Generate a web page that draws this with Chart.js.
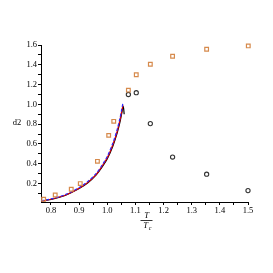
<!DOCTYPE html>
<html>
<head>
<meta charset="utf-8">
<script src="https://cdn.jsdelivr.net/npm/chart.js@4.4.0/dist/chart.umd.min.js"></script>
<style>
  html, body { margin: 0; padding: 0; background: #fff; }
  #wrap { width: 273px; height: 273px; position: relative; }
</style>
</head>
<body>
<div id="wrap"><canvas id="myChartD2"></canvas></div>
<script>
// valores
var xTicks = [0.8, 0.9, 1.0, 1.1, 1.2, 1.3, 1.4, 1.5];
var yTicks = [0.2, 0.4, 0.6, 0.8, 1.0, 1.2, 1.4, 1.6];

var squaresX = [0.774, 0.815, 0.872, 0.904, 0.965, 1.005, 1.023, 1.075, 1.103, 1.153, 1.232, 1.353, 1.501];
var squaresY = [0.042, 0.085, 0.143, 0.200, 0.425, 0.687, 0.829, 1.144, 1.300, 1.405, 1.486, 1.557, 1.591];

var circlesX = [1.075, 1.103, 1.153, 1.232, 1.353, 1.500];
var circlesY = [1.100, 1.118, 0.806, 0.468, 0.295, 0.129];

var curveX      = [0.765, 0.80, 0.85, 0.90, 0.93, 0.96, 0.98, 1.00, 1.02, 1.035, 1.045, 1.052, 1.056, 1.058, 1.060];
var curveBlack  = [0.022, 0.040, 0.080, 0.150, 0.205, 0.285, 0.360, 0.450, 0.580, 0.710, 0.820, 0.920, 0.980, 0.960, 0.900];
var curveRedX   = [0.765, 0.80, 0.85, 0.90, 0.93, 0.96, 0.98, 1.00, 1.02, 1.035, 1.045, 1.052, 1.056];
var curveRed    = [0.022, 0.042, 0.082, 0.153, 0.210, 0.290, 0.370, 0.460, 0.595, 0.725, 0.840, 0.940, 0.990];
var curveBlue   = [0.025, 0.045, 0.088, 0.160, 0.220, 0.300, 0.380, 0.475, 0.610, 0.745, 0.860, 0.960, 1.020];

function pts(xs, ys) {
    return ys.map(function (v, i) { return { x: xs[i], y: v }; });
}

function isMajor(v, list) {
    return list.some(function (t) { return Math.abs(t - v) < 1e-6; });
}

var FONT = 'Liberation Serif';

// titulos del eje: fraccion T/Tc y d2 horizontal
var axisTitles = {
    id: 'axisTitles',
    afterDraw: function (chart) {
        var ctx = chart.ctx;
        var area = chart.chartArea;
        var ys = chart.scales.y;
        ctx.save();
        ctx.fillStyle = '#000';
        ctx.strokeStyle = '#000';
        ctx.textAlign = 'center';
        ctx.textBaseline = 'middle';
        // d2
        ctx.font = '8.5px "' + FONT + '"';
        ctx.fillText('d2', 17, ys.getPixelForValue(0.8) - 1);
        // fraccion
        var cx = (area.left + area.right) / 2 + 2;
        var cy = area.bottom + 18;
        ctx.font = 'italic 8.5px "' + FONT + '"';
        ctx.fillText('T', cx, cy - 4);
        ctx.lineWidth = 0.8;
        ctx.beginPath();
        ctx.moveTo(cx - 6, cy + 0.5);
        ctx.lineTo(cx + 6, cy + 0.5);
        ctx.stroke();
        ctx.fillText('T', cx - 1, cy + 5.5);
        ctx.font = 'italic 6px "' + FONT + '"';
        ctx.fillText('c', cx + 3.5, cy + 8);
        ctx.restore();
    }
};

var ctx = document.getElementById('myChartD2').getContext('2d');
var myChart = new Chart(ctx, {
    type: 'scatter',
    data: {
        datasets: [{
            label: 'negro',
            data: pts(curveX, curveBlack),
            showLine: true,
            borderColor: '#000',
            borderWidth: 1.2,
            pointRadius: 0,
            tension: 0.3,
            order: 3
        },
        {
            label: 'rojo',
            data: pts(curveRedX, curveRed),
            showLine: true,
            borderColor: '#e00000',
            borderWidth: 1.2,
            pointRadius: 0,
            tension: 0.3,
            order: 2
        },
        {
            label: 'azul',
            data: pts(curveRedX, curveBlue),
            showLine: true,
            borderColor: '#2a2aff',
            borderWidth: 1.2,
            borderDash: [3, 2],
            pointRadius: 0,
            tension: 0.3,
            order: 1
        },
        {
            label: 'cuadros',
            data: pts(squaresX, squaresY),
            pointStyle: 'rect',
            pointRadius: 2.6,
            pointBorderWidth: 1.2,
            borderColor: '#d68a4c',
            backgroundColor: 'rgba(255,255,255,0)',
            clip: false,
            order: 0
        },
        {
            label: 'circulos',
            data: pts(circlesX, circlesY),
            pointStyle: 'circle',
            pointRadius: 2.1,
            pointBorderWidth: 1.1,
            borderColor: '#333',
            backgroundColor: 'rgba(255,255,255,0)',
            clip: false,
            order: 0
        }]
    },
    options: {
        responsive: true,
        maintainAspectRatio: false,
        animation: false,
        layout: {
            padding: { top: 45, right: 25, left: 0, bottom: 0 }
        },
        scales: {
            x: {
                type: 'linear',
                min: 0.7645,
                max: 1.5,
                afterBuildTicks: function (scale) {
                    var t = [];
                    for (var i = 16; i <= 30; i++) t.push({ value: i * 0.05 });
                    scale.ticks = t;
                },
                afterFit: function (scale) { scale.height = 71; },
                border: { display: true, color: '#000', width: 1 },
                grid: { drawOnChartArea: false, drawTicks: true, tickLength: 3, color: '#000' },
                ticks: {
                    autoSkip: false,
                    maxRotation: 0,
                    padding: 1,
                    color: '#000',
                    font: { family: FONT, size: 8.5 },
                    callback: function (v) { return isMajor(v, xTicks) ? v.toFixed(1) : ''; }
                }
            },
            y: {
                type: 'linear',
                min: 0.014,
                max: 1.6,
                afterBuildTicks: function (scale) {
                    var t = [];
                    for (var i = 1; i <= 16; i++) t.push({ value: i * 0.1 });
                    scale.ticks = t;
                },
                afterFit: function (scale) { scale.width = 41; },
                border: { display: true, color: '#000', width: 1 },
                grid: { drawOnChartArea: false, drawTicks: true, tickLength: 3, color: '#000' },
                ticks: {
                    autoSkip: false,
                    padding: 1,
                    color: '#000',
                    font: { family: FONT, size: 8.5 },
                    callback: function (v) { return isMajor(v, yTicks) ? v.toFixed(1) : ''; }
                }
            }
        },
        plugins: {
            legend: { display: false },
            tooltip: { enabled: false }
        }
    },
    plugins: [axisTitles]
});
</script>
</body>
</html>
